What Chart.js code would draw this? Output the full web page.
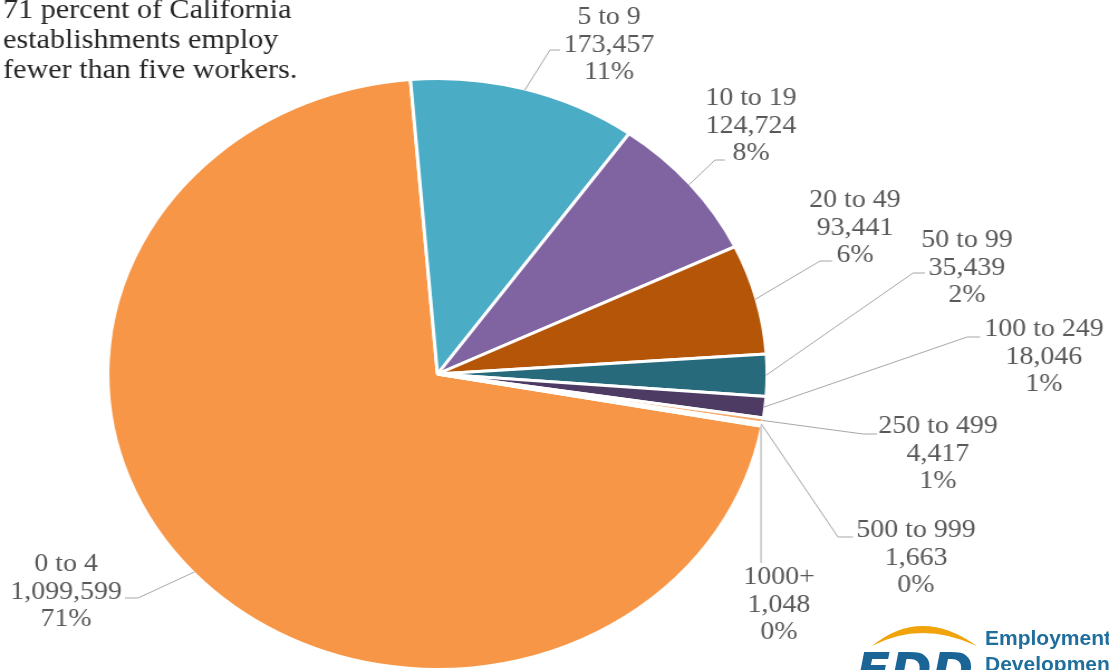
<!DOCTYPE html>
<html>
<head>
<meta charset="utf-8">
<script src="https://cdn.jsdelivr.net/npm/chart.js@4.4.1/dist/chart.umd.min.js"></script>
<style>
  html, body { margin: 0; padding: 0; background: #fff; overflow: hidden; }
  body { width: 1109px; height: 670px; position: relative; }
  /* the whole figure is drawn slightly widened, as in the printed bulletin */
  #wrap { position: absolute; left: 0; top: 0; width: 994px; height: 670px;
          transform: scaleX(1.1157); transform-origin: 0 0; }
  #logo { position: absolute; left: 0; top: 0; width: 1109px; height: 670px; pointer-events: none; }
</style>
</head>
<body>
<div id="wrap"><canvas id="c" width="994" height="670"></canvas></div>
<svg id="logo" width="1109" height="670" xmlns="http://www.w3.org/2000/svg">
  <path d="M872,646 Q921,606 977,646 Q921,620 872,646 Z" fill="#F0A30A"/>
  <text x="856" y="688" font-family="DejaVu Sans" font-weight="bold" font-style="italic" font-size="50" fill="#1A6596">EDD</text>
  <text x="985" y="645" font-family="Liberation Sans" font-weight="bold" font-size="21" fill="#1F6E9C">Employment</text>
  <text x="985" y="671" font-family="Liberation Sans" font-weight="bold" font-size="21" fill="#1F6E9C">Development</text>
</svg>
<script>
// California establishments by size class (number of employees)
const sizeClasses = ['0 to 4', '5 to 9', '10 to 19', '20 to 49', '50 to 99',
                     '100 to 249', '250 to 499', '500 to 999', '1000+'];
const establishments = [1099599, 173457, 124724, 93441, 35439, 18046, 4417, 1663, 1048];
const shareLabels = ['71%', '11%', '8%', '6%', '2%', '1%', '1%', '0%', '0%'];
const sliceColors = ['#F79646', '#4BACC6', '#8064A2', '#B45508', '#276A7C',
                     '#4E3B63', '#F9AA6A', '#7FC6D9', '#A18BBE'];
const titleLines = ['71 percent of California', 'establishments employ', 'fewer than five workers.'];

const STRETCH = 1109 / 994;

// callout placement (page pixels): text centre x, middle-line centre y, elbow and shelf end of leader
const callouts = [
  { tx: 66,   ty: 592, ex: 138, ey: 598, hx: 125 },
  { tx: 609,  ty: 45,  ex: 550, ey: 50,  hx: 560 },
  { tx: 751,  ty: 126, ex: 715, ey: 160, hx: 725 },
  { tx: 855,  ty: 228, ex: 820, ey: 261, hx: 832 },
  { tx: 967,  ty: 268, ex: 913, ey: 273, hx: 925 },
  { tx: 1044, ty: 357, ex: 967, ey: 337, hx: 980 },
  { tx: 938,  ty: 454, ex: 863, ey: 434, hx: 877 },
  { tx: 916,  ty: 558, ex: 838, ey: 537, hx: 853 },
  { tx: 779,  ty: 605, ex: null, ey: 563, hx: null }
];

const calloutPlugin = {
  id: 'callouts',
  afterDatasetsDraw(chart) {
    const ctx = chart.ctx;
    const arcs = chart.getDatasetMeta(0).data;
    ctx.save();
    // heading
    ctx.fillStyle = '#262626';
    ctx.font = '27px "Liberation Serif"';
    ctx.textAlign = 'left';
    ctx.textBaseline = 'alphabetic';
    titleLines.forEach((t, i) => ctx.fillText(t, 3 / STRETCH, 18 + i * 30));

    ctx.font = '25px "Liberation Serif"';
    ctx.textAlign = 'center';
    ctx.textBaseline = 'middle';
    arcs.forEach((arc, i) => {
      const p = arc.getProps(['x', 'y', 'startAngle', 'endAngle', 'outerRadius'], true);
      const mid = (p.startAngle + p.endAngle) / 2;
      const ax = p.x + Math.cos(mid) * (p.outerRadius - 1);
      const ay = p.y + Math.sin(mid) * (p.outerRadius - 1);
      const c = callouts[i];
      ctx.strokeStyle = '#A6A6A6';
      ctx.lineWidth = 1;
      ctx.beginPath();
      ctx.moveTo(ax, ay);
      if (c.ex === null) {
        ctx.lineTo(ax, c.ey);
      } else {
        ctx.lineTo(c.ex / STRETCH, c.ey);
        ctx.lineTo(c.hx / STRETCH, c.ey);
      }
      ctx.stroke();
      const lines = [sizeClasses[i], establishments[i].toLocaleString('en-US'), shareLabels[i]];
      ctx.fillStyle = '#595959';
      lines.forEach((t, k) => ctx.fillText(t, c.tx / STRETCH, c.ty + (k - 1) * 27.5));
    });
    ctx.restore();
  }
};

new Chart(document.getElementById('c'), {
  type: 'pie',
  data: {
    labels: sizeClasses,
    datasets: [{
      data: establishments,
      backgroundColor: sliceColors,
      borderColor: '#ffffff',
      borderWidth: 3
    }]
  },
  options: {
    responsive: false,
    animation: false,
    rotation: 100.2,
    radius: 295.5,
    layout: { padding: { left: 0, right: 209.8, top: 78, bottom: 0 } },
    plugins: {
      legend: { display: false },
      tooltip: { enabled: false }
    }
  },
  plugins: [calloutPlugin]
});
</script>
</body>
</html>
